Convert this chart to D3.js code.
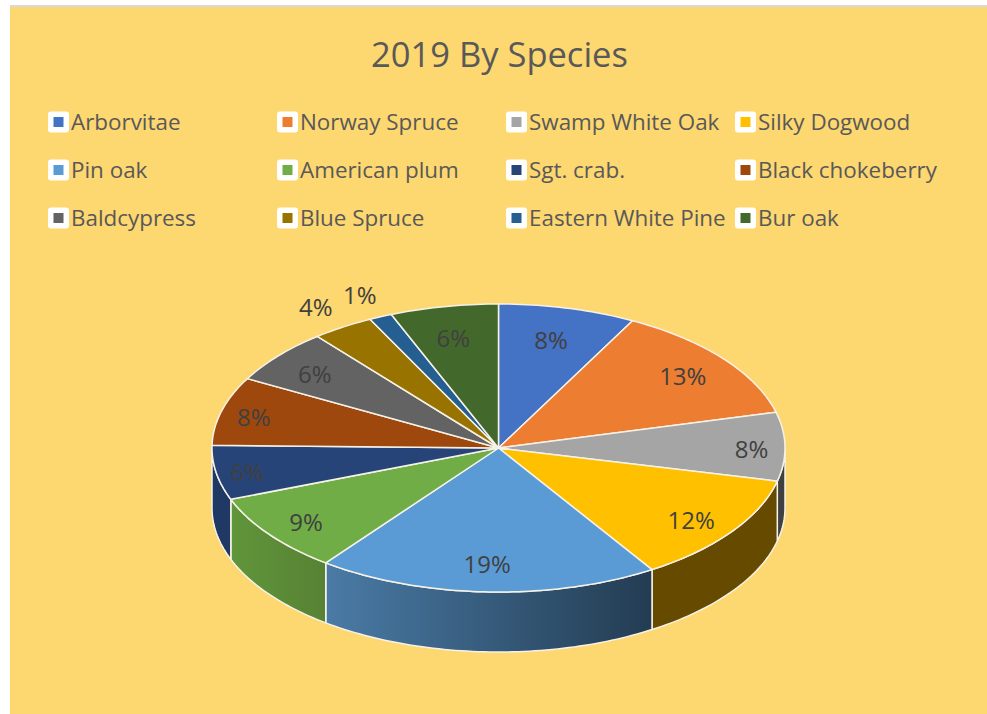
<!DOCTYPE html>
<html>
<head>
<meta charset="utf-8">
<script src="https://cdn.jsdelivr.net/npm/d3@7"></script>
<style>
  html, body { margin: 0; padding: 0; background: #fff; }
  svg { display: block; }
  text { font-family: "Open Sans", "Noto Sans", sans-serif; }
</style>
</head>
<body>
<div id="chart"></div>
<script>
var species = ["Arborvitae", "Norway Spruce", "Swamp White Oak", "Silky Dogwood",
               "Pin oak", "American plum", "Sgt. crab.", "Black chokeberry",
               "Baldcypress", "Blue Spruce", "Eastern White Pine", "Bur oak"];
var shares = [7.75, 13.25, 7.7, 12.3, 19.3, 8.9, 6.1, 7.7, 6.1, 3.5, 1.3, 6.1];
var topColors = ["#4472c4", "#ed7d31", "#a5a5a5", "#ffc000", "#5b9bd5", "#70ad47",
                 "#264478", "#9e480e", "#636363", "#997300", "#255e91", "#43682b"];
var wallLeft = ["#2c4a80", "#9a5220", "#404040", "#664a00", "#4a7ba6", "#60953a",
                "#1f3864", "#6a300a", "#444444", "#664d00", "#193f61", "#2d451d"];
var wallRight = ["#2c4a80", "#9a5220", "#404040", "#664a00", "#233c52", "#578234",
                 "#1f3864", "#6a300a", "#444444", "#664d00", "#193f61", "#2d451d"];

var width = 987, height = 714;
var depth = 60;

var svg = d3.select("#chart").append("svg")
    .attr("width", width)
    .attr("height", height);

// panel
svg.append("rect")
    .attr("x", 10).attr("y", 5).attr("width", width - 10).attr("height", 2)
    .attr("fill", "#d9d9d9");
svg.append("rect")
    .attr("x", 10).attr("y", 7).attr("width", width - 10).attr("height", height - 7)
    .attr("fill", "#fdd76f");

svg.append("text")
    .attr("x", 499.5).attr("y", 67)
    .attr("text-anchor", "middle")
    .attr("font-size", 34.5)
    .attr("fill", "#595959")
    .text("2019 By Species");

// legend, 4 columns by 3 rows
var legendX = d3.scalePoint().domain(d3.range(4)).range([48, 735]);
var legendY = d3.scalePoint().domain(d3.range(3)).range([122, 218]);

var legend = svg.selectAll("g.legend")
    .data(species)
  .enter().append("g")
    .attr("class", "legend")
    .attr("transform", function(d, i) {
      return "translate(" + legendX(i % 4) + "," + legendY(Math.floor(i / 4)) + ")";
    });
legend.append("rect")
    .attr("x", 0).attr("y", -10.5).attr("width", 21).attr("height", 21).attr("rx", 3)
    .attr("fill", "#fff");
legend.append("rect")
    .attr("x", 5.5).attr("y", -5).attr("width", 10).attr("height", 10)
    .attr("fill", function(d, i) { return topColors[i]; });
legend.append("text")
    .attr("x", 23).attr("y", 8)
    .attr("font-size", 22.4)
    .attr("fill", "#595959")
    .text(function(d) { return d; });

// unit circle -> tilted ellipse
var x = d3.scaleLinear().domain([-1, 1]).range([212, 785]);
var y = d3.scaleLinear().domain([1, -1]).range([304, 592]);

var slices = d3.pie().sort(null)(shares);

function rim(a, r) {
  return [x(r * Math.sin(a)), y(r * Math.cos(a))];
}
function rimPoints(a0, a1, dy) {
  var n = Math.max(2, Math.ceil((a1 - a0) / 0.02));
  return d3.range(n + 1).map(function(k) {
    var p = rim(a0 + (a1 - a0) * k / n, 1);
    return [p[0], p[1] + dy];
  });
}
var line = d3.line();

var defs = svg.append("defs");

// side wall, only where the rim faces the viewer
slices.forEach(function(s, i) {
  var a0 = Math.max(s.startAngle, Math.PI / 2);
  var a1 = Math.min(s.endAngle, 3 * Math.PI / 2);
  if (a1 <= a0) return;
  var upper = rimPoints(a0, a1, 0);
  var lower = rimPoints(a0, a1, depth).reverse();
  var grad = defs.append("linearGradient")
      .attr("id", "wall" + i)
      .attr("gradientUnits", "userSpaceOnUse")
      .attr("x1", d3.min(upper, function(p) { return p[0]; })).attr("y1", 0)
      .attr("x2", d3.max(upper, function(p) { return p[0]; })).attr("y2", 0);
  // the rim runs right to left along the front
  grad.append("stop").attr("offset", 0).attr("stop-color", wallLeft[i]);
  grad.append("stop").attr("offset", 1).attr("stop-color", wallRight[i]);
  svg.append("path")
      .attr("d", line(upper.concat(lower)) + "Z")
      .attr("fill", "url(#wall" + i + ")")
      .attr("stroke", "#f6f2e8")
      .attr("stroke-width", 1.5)
      .attr("stroke-linejoin", "round");
});

// top face
svg.selectAll("path.slice")
    .data(slices)
  .enter().append("path")
    .attr("class", "slice")
    .attr("d", function(s) {
      var pts = [rim(0, 0)].concat(rimPoints(s.startAngle, s.endAngle, 0));
      return line(pts) + "Z";
    })
    .attr("fill", function(s, i) { return topColors[i]; })
    .attr("stroke", "#f6f2e8")
    .attr("stroke-width", 1.5)
    .attr("stroke-linejoin", "round");

// percent labels, the two thin slices get theirs outside the pie
svg.selectAll("text.pct")
    .data(slices)
  .enter().append("text")
    .attr("class", "pct")
    .each(function(s) {
      var mid = (s.startAngle + s.endAngle) / 2;
      var r = s.value < 5 ? 1.16 : 0.79 + 0.1 * Math.pow(Math.sin(mid), 4);
      var p = rim(mid, r);
      d3.select(this).attr("x", p[0] - 2).attr("y", p[1] + (s.value < 5 ? 8 : 11));
    })
    .attr("text-anchor", "middle")
    .attr("font-size", 24)
    .attr("fill", "#404040")
    .text(function(s) { return d3.format(".0f")(s.value) + "%"; });
</script>
</body>
</html>
